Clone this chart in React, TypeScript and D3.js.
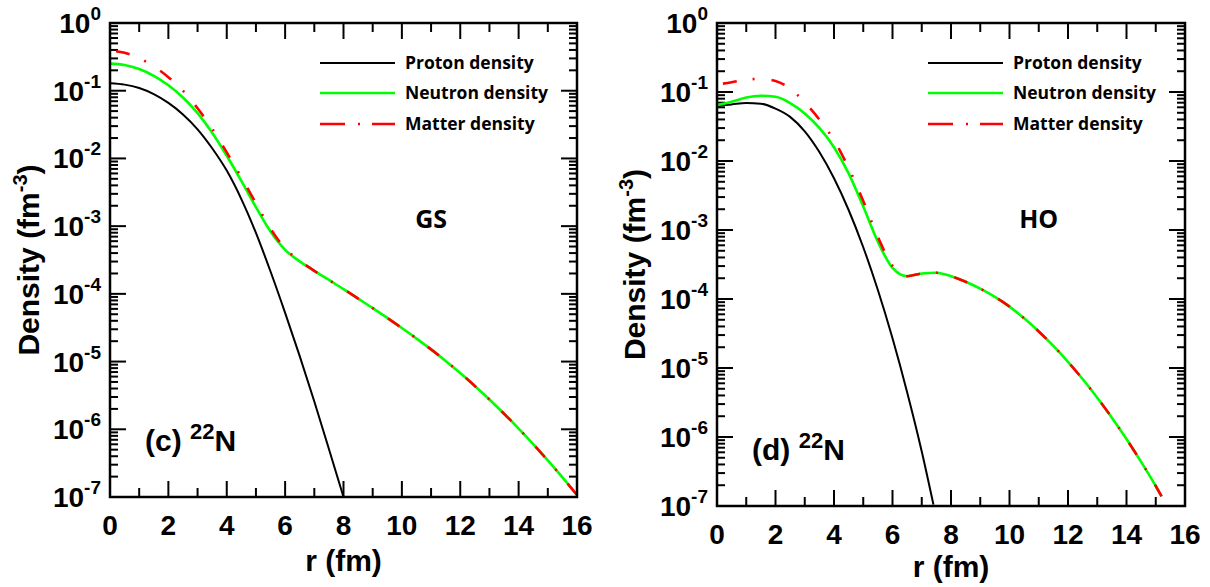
import React from 'react';
import * as d3 from 'd3';

// radius grid (fm) and log10 of density (fm^-3)
const rGS = [0, 0.5, 1, 1.5, 2, 2.5, 3, 3.5, 4, 4.5, 5, 5.5, 6, 6.5, 7, 7.5, 8, 8.5, 9, 9.5, 10, 10.5, 11, 11.5, 12, 12.5, 13, 13.5, 14, 14.5, 15, 15.5, 16];
const rGSProton = [0, 0.5, 1, 1.5, 2, 2.5, 3, 3.5, 4, 4.5, 5, 5.5, 6, 6.5, 7, 7.5, 8];
const protonGS = [-0.89, -0.91, -0.96, -1.05, -1.18, -1.35, -1.57, -1.85, -2.18, -2.6, -3.1, -3.67, -4.28, -4.92, -5.59, -6.29, -7.0];
const neutronGS = [-0.6, -0.62, -0.68, -0.78, -0.92, -1.1, -1.33, -1.62, -1.96, -2.33, -2.72, -3.08, -3.35, -3.52, -3.66, -3.795, -3.93, -4.07, -4.21, -4.355, -4.505, -4.66, -4.82, -4.99, -5.17, -5.36, -5.56, -5.77, -5.99, -6.22, -6.46, -6.71, -6.97];
const matterGS = [-0.41, -0.44, -0.52, -0.64, -0.8, -1.0, -1.26, -1.56, -1.91, -2.28, -2.66, -3.04, -3.33, -3.51, -3.66, -3.795, -3.93, -4.07, -4.21, -4.355, -4.505, -4.66, -4.82, -4.99, -5.17, -5.36, -5.56, -5.77, -5.99, -6.22, -6.46, -6.71, -6.97];

const rHO = [0, 0.5, 1, 1.5, 2, 2.5, 3, 3.5, 4, 4.5, 5, 5.5, 6, 6.5, 7, 7.5, 8, 8.5, 9, 9.5, 10, 10.5, 11, 11.5, 12, 12.5, 13, 13.5, 14, 14.5, 15, 15.2];
const rHOProton = [0, 0.5, 1, 1.5, 2, 2.5, 3, 3.5, 4, 4.5, 5, 5.5, 6, 6.5, 7, 7.4];
const protonHO = [-1.2, -1.18, -1.16, -1.17, -1.24, -1.36, -1.57, -1.87, -2.25, -2.71, -3.25, -3.87, -4.57, -5.35, -6.21, -6.98];
const neutronHO = [-1.19, -1.14, -1.08, -1.055, -1.07, -1.16, -1.31, -1.52, -1.8, -2.18, -2.66, -3.17, -3.55, -3.67, -3.63, -3.62, -3.67, -3.75, -3.85, -3.97, -4.11, -4.28, -4.47, -4.68, -4.91, -5.16, -5.43, -5.72, -6.03, -6.36, -6.71, -6.86];
const matterHO = [-0.89, -0.86, -0.82, -0.81, -0.84, -0.95, -1.15, -1.4, -1.7, -2.1, -2.58, -3.1, -3.52, -3.67, -3.63, -3.62, -3.67, -3.75, -3.85, -3.97, -4.11, -4.28, -4.47, -4.68, -4.91, -5.16, -5.43, -5.72, -6.03, -6.36, -6.71, -6.86];

const legendLabels = ['Proton density', 'Neutron density', 'Matter density'];
const xMajor = [0, 2, 4, 6, 8, 10, 12, 14, 16];
const xMinor = [1, 3, 5, 7, 9, 11, 13, 15];
const yExponents = [-7, -6, -5, -4, -3, -2, -1, 0];

const W = 1210;
const H = 587;
const numFont = '"Liberation Sans", Arial, sans-serif';
const legFont = '"Open Sans", sans-serif';
const MATTER_DASH = '14 16 2 17';

type Box = { left: number; right: number; top: number; bottom: number };

function Panel({ id, box, rP, p, rN, n, m, method, tag, yTitleX, xTitleY, legX }: {
  id: string; box: Box; rP: number[]; p: number[]; rN: number[]; n: number[]; m: number[];
  method: string; tag: string; yTitleX: number; xTitleY: number; legX: number;
}) {
  const x = d3.scaleLinear().domain([0, 16]).range([box.left, box.right]);
  const y = d3.scaleLog().domain([1e-7, 1]).range([box.bottom, box.top]);
  const line = d3.line<[number, number]>()
    .x(d => x(d[0]))
    .y(d => y(Math.pow(10, d[1])))
    .curve(d3.curveMonotoneX);

  const yMinor: number[] = [];
  yExponents.slice(0, -1).forEach(e => {
    for (let k = 2; k <= 9; k++) yMinor.push(k * Math.pow(10, e));
  });

  const pts = (rs: number[], vs: number[]) => rs.map((r, i) => [r, vs[i]] as [number, number]);
  const legendColors = ['#000', '#00ff00', '#ff0000'];
  const legendY = [63, 93, 124];

  return (
    <g>
      <defs>
        <clipPath id={id}>
          <rect x={box.left} y={box.top - 2} width={box.right - box.left} height={box.bottom - box.top + 4} />
        </clipPath>
      </defs>

      {/* ticks, all pointing inward */}
      <g stroke="#000" strokeWidth={2}>
        {xMajor.map(t => (
          <g key={'xM' + t}>
            <line x1={x(t)} x2={x(t)} y1={box.bottom} y2={box.bottom - 16} />
            <line x1={x(t)} x2={x(t)} y1={box.top} y2={box.top + 16} />
          </g>
        ))}
        {xMinor.map(t => (
          <g key={'xm' + t}>
            <line x1={x(t)} x2={x(t)} y1={box.bottom} y2={box.bottom - 9} />
            <line x1={x(t)} x2={x(t)} y1={box.top} y2={box.top + 9} />
          </g>
        ))}
        {yExponents.map(e => (
          <g key={'yM' + e}>
            <line x1={box.left} x2={box.left + 16} y1={y(Math.pow(10, e))} y2={y(Math.pow(10, e))} />
            <line x1={box.right} x2={box.right - 16} y1={y(Math.pow(10, e))} y2={y(Math.pow(10, e))} />
          </g>
        ))}
        {yMinor.map((v, i) => (
          <g key={'ym' + i}>
            <line x1={box.left} x2={box.left + 8} y1={y(v)} y2={y(v)} />
            <line x1={box.right} x2={box.right - 8} y1={y(v)} y2={y(v)} />
          </g>
        ))}
      </g>

      {/* tick labels */}
      <g fontFamily={numFont} fontWeight="bold" fill="#000">
        {xMajor.map(t => (
          <text key={'xl' + t} x={x(t)} y={box.bottom + 38} fontSize={28} textAnchor="middle">{t}</text>
        ))}
        {yExponents.map(e => (
          <text key={'yl' + e} x={box.left - 9} y={y(Math.pow(10, e)) + 10} fontSize={28} textAnchor="end">
            10<tspan fontSize={19} dy={-13}>{e}</tspan>
          </text>
        ))}
      </g>

      {/* curves */}
      <g clipPath={`url(#${id})`} fill="none">
        <path d={line(pts(rP, p)) || ''} stroke="#000" strokeWidth={2} />
        <path d={line(pts(rN, n)) || ''} stroke="#00ff00" strokeWidth={2.6} />
        <path d={line(pts(rN, m)) || ''} stroke="#ff0000" strokeWidth={2.6} strokeDasharray={MATTER_DASH} strokeDashoffset={-6} />
      </g>

      <rect x={box.left} y={box.top} width={box.right - box.left} height={box.bottom - box.top}
        fill="none" stroke="#000" strokeWidth={2.5} />

      {/* legend */}
      {legendLabels.map((lab, i) => (
        <g key={lab}>
          <line x1={legX} x2={legX + 75} y1={legendY[i]} y2={legendY[i]} stroke={legendColors[i]}
            strokeWidth={i === 0 ? 2 : 2.6} strokeDasharray={i === 2 ? '25 13 2 12' : undefined} />
          <text x={legX + 85} y={legendY[i] + 6} fontFamily={legFont} fontWeight={700} fontSize={17.5}>{lab}</text>
        </g>
      ))}

      <text x={x(11)} y={box.top + 205} textAnchor="middle" fontFamily={legFont} fontWeight={700} fontSize={25}>{method}</text>

      <text x={box.left + 35} y={box.bottom - 46} fontFamily={numFont} fontWeight="bold" fontSize={30}>
        {tag} <tspan fontSize={22} dy={-12}>22</tspan><tspan dy={12}>N</tspan>
      </text>

      {/* axis titles */}
      <text x={(box.left + box.right) / 2} y={xTitleY} textAnchor="middle" fontFamily={numFont} fontWeight="bold" fontSize={30}>r (fm)</text>
      <text transform={`translate(${yTitleX},${(box.top + box.bottom) / 2}) rotate(-90)`} textAnchor="middle"
        fontFamily={numFont} fontWeight="bold" fontSize={30}>
        Density (fm<tspan fontSize={20} dy={-12}>-3</tspan><tspan dy={12}>)</tspan>
      </text>
    </g>
  );
}

export default function App() {
  return (
    <svg width={W} height={H} style={{ position: 'absolute', left: 0, top: 0, background: '#fff' }}>
      <Panel id="clipGS" box={{ left: 110, right: 577, top: 23, bottom: 497 }}
        rP={rGSProton} p={protonGS} rN={rGS} n={neutronGS} m={matterGS}
        method="GS" tag="(c)" yTitleX={39} xTitleY={571} legX={320} />
      <Panel id="clipHO" box={{ left: 717, right: 1185, top: 23, bottom: 506 }}
        rP={rHOProton} p={protonHO} rN={rHO} n={neutronHO} m={matterHO}
        method="HO" tag="(d)" yTitleX={645} xTitleY={577} legX={928} />
    </svg>
  );
}
